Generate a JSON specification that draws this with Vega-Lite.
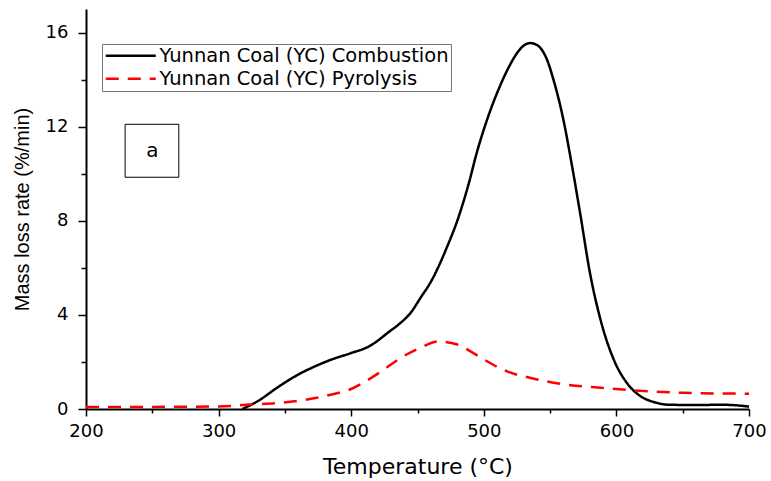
{
  "$schema": "https://vega.github.io/schema/vega-lite/v6.json",
  "width": 663,
  "height": 400,
  "autosize": {"type": "none"},
  "padding": {"left": 86, "top": 9, "right": 22, "bottom": 72},
  "background": "white",
  "config": {"view": {"stroke": null}},
  "datasets": {
    "curves": [
      {"series": "Yunnan Coal (YC) Combustion", "T": 318, "v": 0},
      {"series": "Yunnan Coal (YC) Combustion", "T": 330, "v": 0.35},
      {"series": "Yunnan Coal (YC) Combustion", "T": 344, "v": 0.9},
      {"series": "Yunnan Coal (YC) Combustion", "T": 358, "v": 1.4},
      {"series": "Yunnan Coal (YC) Combustion", "T": 373, "v": 1.82},
      {"series": "Yunnan Coal (YC) Combustion", "T": 386, "v": 2.12},
      {"series": "Yunnan Coal (YC) Combustion", "T": 399, "v": 2.36},
      {"series": "Yunnan Coal (YC) Combustion", "T": 414, "v": 2.68},
      {"series": "Yunnan Coal (YC) Combustion", "T": 429, "v": 3.3},
      {"series": "Yunnan Coal (YC) Combustion", "T": 437, "v": 3.65},
      {"series": "Yunnan Coal (YC) Combustion", "T": 445, "v": 4.1},
      {"series": "Yunnan Coal (YC) Combustion", "T": 452, "v": 4.7},
      {"series": "Yunnan Coal (YC) Combustion", "T": 461, "v": 5.5},
      {"series": "Yunnan Coal (YC) Combustion", "T": 465, "v": 5.95},
      {"series": "Yunnan Coal (YC) Combustion", "T": 472, "v": 6.85},
      {"series": "Yunnan Coal (YC) Combustion", "T": 480, "v": 8.0},
      {"series": "Yunnan Coal (YC) Combustion", "T": 488, "v": 9.45},
      {"series": "Yunnan Coal (YC) Combustion", "T": 495, "v": 10.95},
      {"series": "Yunnan Coal (YC) Combustion", "T": 505, "v": 12.7},
      {"series": "Yunnan Coal (YC) Combustion", "T": 512, "v": 13.7},
      {"series": "Yunnan Coal (YC) Combustion", "T": 520, "v": 14.65},
      {"series": "Yunnan Coal (YC) Combustion", "T": 526, "v": 15.2},
      {"series": "Yunnan Coal (YC) Combustion", "T": 531, "v": 15.48},
      {"series": "Yunnan Coal (YC) Combustion", "T": 535, "v": 15.55},
      {"series": "Yunnan Coal (YC) Combustion", "T": 539, "v": 15.5},
      {"series": "Yunnan Coal (YC) Combustion", "T": 544, "v": 15.25},
      {"series": "Yunnan Coal (YC) Combustion", "T": 548, "v": 14.8},
      {"series": "Yunnan Coal (YC) Combustion", "T": 552, "v": 14.1},
      {"series": "Yunnan Coal (YC) Combustion", "T": 560, "v": 12.3},
      {"series": "Yunnan Coal (YC) Combustion", "T": 566, "v": 10.5},
      {"series": "Yunnan Coal (YC) Combustion", "T": 573, "v": 8.2},
      {"series": "Yunnan Coal (YC) Combustion", "T": 580, "v": 5.8},
      {"series": "Yunnan Coal (YC) Combustion", "T": 588, "v": 3.8},
      {"series": "Yunnan Coal (YC) Combustion", "T": 598, "v": 2.1},
      {"series": "Yunnan Coal (YC) Combustion", "T": 608, "v": 1.1},
      {"series": "Yunnan Coal (YC) Combustion", "T": 618, "v": 0.55},
      {"series": "Yunnan Coal (YC) Combustion", "T": 628, "v": 0.3},
      {"series": "Yunnan Coal (YC) Combustion", "T": 640, "v": 0.18},
      {"series": "Yunnan Coal (YC) Combustion", "T": 660, "v": 0.17},
      {"series": "Yunnan Coal (YC) Combustion", "T": 680, "v": 0.18},
      {"series": "Yunnan Coal (YC) Combustion", "T": 692, "v": 0.15},
      {"series": "Yunnan Coal (YC) Combustion", "T": 700, "v": 0.1},
      {"series": "Yunnan Coal (YC) Pyrolysis", "T": 200, "v": 0.08},
      {"series": "Yunnan Coal (YC) Pyrolysis", "T": 250, "v": 0.09},
      {"series": "Yunnan Coal (YC) Pyrolysis", "T": 300, "v": 0.11},
      {"series": "Yunnan Coal (YC) Pyrolysis", "T": 324, "v": 0.19},
      {"series": "Yunnan Coal (YC) Pyrolysis", "T": 349, "v": 0.27},
      {"series": "Yunnan Coal (YC) Pyrolysis", "T": 374, "v": 0.48},
      {"series": "Yunnan Coal (YC) Pyrolysis", "T": 390, "v": 0.68},
      {"series": "Yunnan Coal (YC) Pyrolysis", "T": 399, "v": 0.83},
      {"series": "Yunnan Coal (YC) Pyrolysis", "T": 411, "v": 1.18},
      {"series": "Yunnan Coal (YC) Pyrolysis", "T": 424, "v": 1.65},
      {"series": "Yunnan Coal (YC) Pyrolysis", "T": 437, "v": 2.16},
      {"series": "Yunnan Coal (YC) Pyrolysis", "T": 452, "v": 2.6},
      {"series": "Yunnan Coal (YC) Pyrolysis", "T": 466, "v": 2.87},
      {"series": "Yunnan Coal (YC) Pyrolysis", "T": 480, "v": 2.74},
      {"series": "Yunnan Coal (YC) Pyrolysis", "T": 490, "v": 2.45},
      {"series": "Yunnan Coal (YC) Pyrolysis", "T": 500, "v": 2.11},
      {"series": "Yunnan Coal (YC) Pyrolysis", "T": 517, "v": 1.61},
      {"series": "Yunnan Coal (YC) Pyrolysis", "T": 537, "v": 1.3},
      {"series": "Yunnan Coal (YC) Pyrolysis", "T": 562, "v": 1.04},
      {"series": "Yunnan Coal (YC) Pyrolysis", "T": 588, "v": 0.9},
      {"series": "Yunnan Coal (YC) Pyrolysis", "T": 613, "v": 0.79},
      {"series": "Yunnan Coal (YC) Pyrolysis", "T": 650, "v": 0.69},
      {"series": "Yunnan Coal (YC) Pyrolysis", "T": 700, "v": 0.65}
    ],
    "note": [
      {"T": 229.5, "T2": 270, "v": 12.1, "v2": 9.85, "tc": 250, "vc": 10.95, "label": "a"}
    ]
  },
  "encoding": {
    "x": {
      "field": "T",
      "type": "quantitative",
      "title": "Temperature (°C)",
      "scale": {"domain": [200, 700], "nice": false, "zero": false},
      "axis": {
        "values": [200, 250, 300, 350, 400, 450, 500, 550, 600, 650, 700],
        "labelExpr": "datum.value % 100 === 0 ? datum.label : ''",
        "grid": false,
        "domainColor": "black",
        "domainWidth": 2,
        "tickColor": "black",
        "tickWidth": 1.5,
        "tickSize": {"condition": {"test": "datum.value % 100 === 0", "value": 7}, "value": 4},
        "labelFont": "DejaVu Sans",
        "labelFontSize": 18,
        "labelColor": "black",
        "labelPadding": 6,
        "labelFlush": false,
        "titleFont": "DejaVu Sans",
        "titleFontSize": 22,
        "titleFontWeight": "normal",
        "titleColor": "black",
        "titlePadding": 16
      }
    },
    "y": {
      "field": "v",
      "type": "quantitative",
      "title": "Mass loss rate (%/min)",
      "scale": {"domain": [0, 17], "nice": false},
      "axis": {
        "values": [0, 2, 4, 6, 8, 10, 12, 14, 16],
        "labelExpr": "datum.value % 4 === 0 ? datum.label : ''",
        "grid": false,
        "domainColor": "black",
        "domainWidth": 2,
        "tickColor": "black",
        "tickWidth": 1.5,
        "tickSize": {"condition": {"test": "datum.value % 4 === 0", "value": 8}, "value": 5},
        "labelFont": "DejaVu Sans",
        "labelFontSize": 18,
        "labelColor": "black",
        "labelPadding": 10,
        "labelFlush": false,
        "titleFont": "Liberation Sans",
        "titleFontSize": 20,
        "titleFontWeight": "normal",
        "titleColor": "black",
        "titlePadding": 13
      }
    }
  },
  "layer": [
    {
      "data": {"name": "curves"},
      "mark": {"type": "line", "interpolate": "monotone", "strokeWidth": 2.5},
      "encoding": {
        "color": {
          "field": "series",
          "type": "nominal",
          "title": null,
          "scale": {
            "domain": ["Yunnan Coal (YC) Combustion", "Yunnan Coal (YC) Pyrolysis"],
            "range": ["black", "#ff0000"]
          },
          "legend": {
            "orient": "none",
            "legendX": 16,
            "legendY": 35,
            "padding": 2,
            "strokeColor": "#777777",
            "fillColor": "white",
            "symbolType": "M-5,0L5,0",
            "symbolSize": 100,
            "symbolOffset": 17,
            "symbolStrokeWidth": 2.5,
            "labelFont": "DejaVu Sans",
            "labelFontSize": 19.5,
            "labelColor": "black",
            "labelOffset": 19,
            "labelLimit": 400,
            "rowPadding": 2
          }
        },
        "strokeDash": {
          "field": "series",
          "type": "nominal",
          "title": null,
          "scale": {
            "domain": ["Yunnan Coal (YC) Combustion", "Yunnan Coal (YC) Pyrolysis"],
            "range": [[1, 0], [13, 9]]
          }
        }
      }
    },
    {
      "data": {"name": "note"},
      "mark": {"type": "rect", "fill": "white", "fillOpacity": 0, "stroke": "black", "strokeWidth": 1},
      "encoding": {
        "x2": {"field": "T2"},
        "y2": {"field": "v2"}
      }
    },
    {
      "data": {"name": "note"},
      "mark": {"type": "text", "font": "DejaVu Sans", "fontSize": 20, "color": "black", "align": "center", "baseline": "middle"},
      "encoding": {
        "x": {"field": "tc", "type": "quantitative"},
        "y": {"field": "vc", "type": "quantitative"},
        "text": {"field": "label"}
      }
    }
  ]
}
